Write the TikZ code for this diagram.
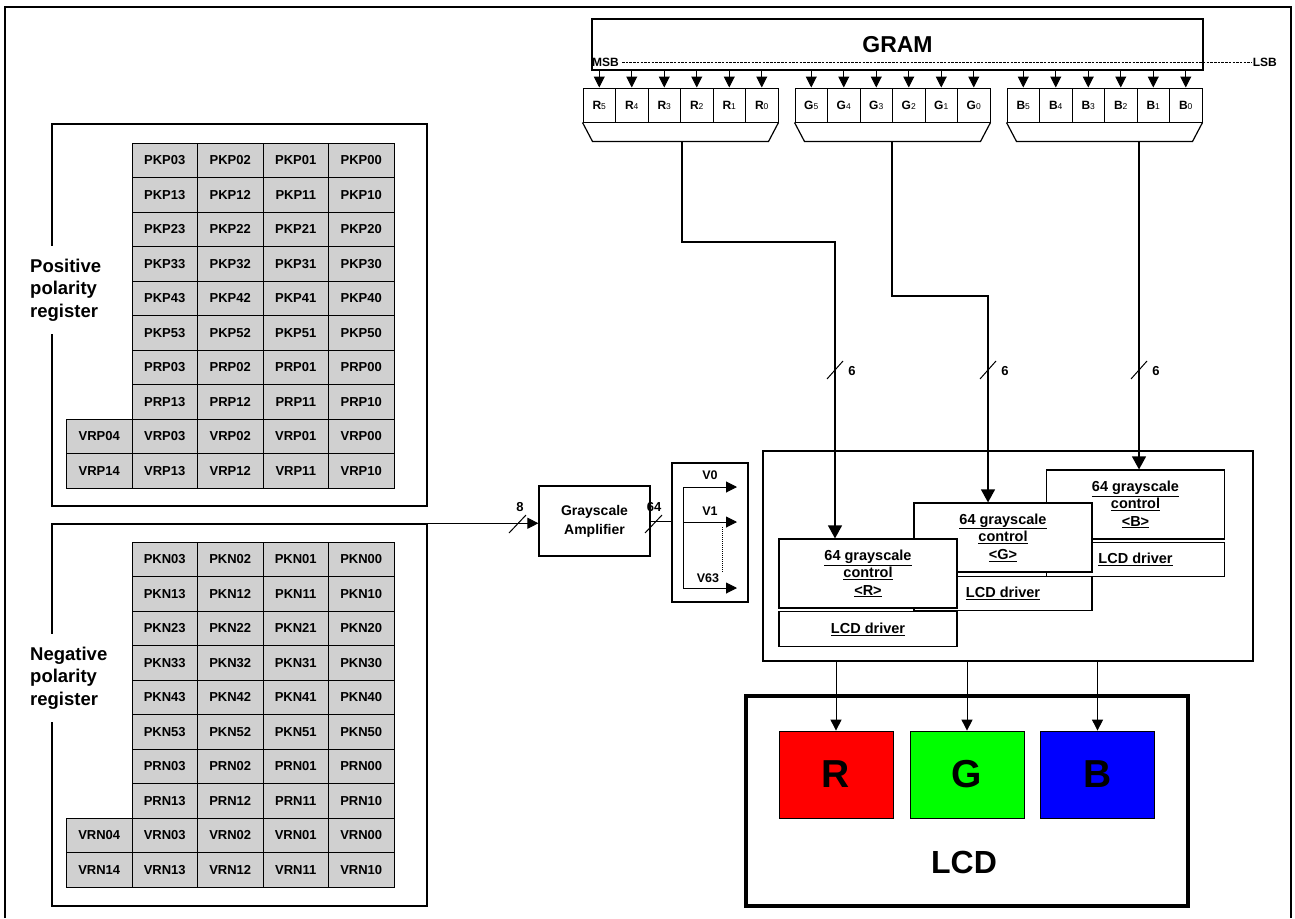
\documentclass[tikz,border=0pt]{standalone}
\usepackage{fontspec}
\setmainfont{Liberation Sans}
\usepackage{tikz}
\usetikzlibrary{arrows.meta, calc}
\definecolor{cellgray}{RGB}{208,208,208}
\definecolor{pixred}{RGB}{255,0,0}
\definecolor{pixgreen}{RGB}{0,255,0}
\definecolor{pixblue}{RGB}{0,0,255}
\newcommand{\boldsz}[2]{\fontsize{#1}{#2}\selectfont\bfseries}

\begin{document}
\begin{tikzpicture}[x=1pt, y=-1pt,
	cell/.style={draw, line width=1pt, fill=cellgray, minimum width=65.5pt, minimum height=34.5pt, inner sep=0pt, font=\boldsz{13}{15}},
	bit/.style={draw, line width=1pt, minimum width=32.5pt, minimum height=34pt, inner sep=0pt, font=\boldsz{12}{14}},
	regbox/.style={draw, line width=1.5pt, minimum width=375pt, minimum height=382pt, inner sep=0pt},
	reglabel/.style={anchor=west, fill=white, align=left, inner xsep=2pt, inner ysep=13pt, font=\boldsz{18.5}{22.5}},
	ctl/.style={draw, line width=1.2pt, fill=white, align=center, minimum width=178pt, minimum height=69pt, inner sep=0pt, font=\boldsz{14.5}{17.5}},
	drv/.style={draw, line width=1.2pt, fill=white, minimum width=178pt, minimum height=34.5pt, inner sep=0pt, font=\boldsz{14.5}{17.5}},
	pix/.style={draw, line width=0.8pt, minimum width=114pt, minimum height=87pt, inner sep=0pt, font=\boldsz{39}{39}},
	num/.style={inner sep=0pt, font=\boldsz{13}{13}},
	arr/.style={line width=1pt, -{Triangle[length=11pt,width=11pt]}},
	bigarr/.style={line width=1.2pt, -{Triangle[length=13pt,width=14pt]}}
	]
	\useasboundingbox (0,0) rectangle (1295,918);
	\draw[line width=2.5pt] (5,918) -- (5,7) -- (1291,7) -- (1291,918);

	% registers
	\node[regbox] (posreg) at (239.5,315) {};
	\node[regbox] (negreg) at (239.5,715) {};
	\node[reglabel] (poslabel) at (28,290) {Positive\\polarity\\register};
	\node[reglabel] (neglabel) at (28,678) {Negative\\polarity\\register};
	\foreach \pol/\gy in {P/143,N/542}{
		\foreach \r in {0,...,5}
			\foreach \c in {0,...,3}
				\node[cell] (pk\pol\r\c) at ({132+65.5*(3-\c)+32.75},{\gy+34.5*\r+17.25}) {PK\pol\r\c};
		\foreach \r in {0,1}
			\foreach \c in {0,...,3}
				\node[cell] (pr\pol\r\c) at ({132+65.5*(3-\c)+32.75},{\gy+34.5*(\r+6)+17.25}) {PR\pol\r\c};
		\foreach \r in {0,1}
			\foreach \c in {0,...,4}
				\node[cell] (vr\pol\r\c) at ({132+65.5*(3-\c)+32.75},{\gy+34.5*(\r+8)+17.25}) {VR\pol\r\c};
	}

	% amplifier
	\node[draw, line width=1.2pt, align=center, minimum width=111pt, minimum height=70pt, inner sep=0pt, font=\boldsz{14}{19}] (amp) at (594.5,521) {Grayscale\\Amplifier};
	\node[draw, line width=1.2pt, minimum width=76pt, minimum height=139pt, inner sep=0pt] (vbox) at (710,532.5) {};
	\draw[arr] (negreg.north east) -- (negreg.north east -| amp.west);
	\draw[line width=1pt] (amp.east) -- (amp.east -| vbox.west);
	\draw[line width=1pt] (509,533) -- (526,515);
	\draw[line width=1pt] (645,533) -- (662,515);
	\node[num] (eight) at (520,507) {8};
	\node[num] (sixtyfour) at (654,507) {64};
	\coordinate (vtop) at (683,487);
	\coordinate (vmid) at (683,522);
	\coordinate (vbot) at (683,588);
	\draw[line width=1pt] (vtop) -- (vbot);
	\draw[arr] (vtop) -- ++(54,0);
	\draw[arr] (vmid) -- ++(54,0);
	\draw[arr] (vbot) -- ++(54,0);
	\draw[line width=1pt, dash pattern=on 1pt off 1pt] (722,527) -- (722,573);
	\node[num, font=\boldsz{12.5}{13}] (vzero) at (710,475) {V0};
	\node[num, font=\boldsz{12.5}{13}] (vone) at (710,511) {V1};
	\node[num, font=\boldsz{12.5}{13}] (vlast) at (708,578) {V63};

	% GRAM
	\node[draw, line width=1.2pt, minimum width=611pt, minimum height=51pt, inner sep=0pt, font=\boldsz{23}{23}] (gram) at (897.5,44.5) {GRAM};
	\node[anchor=west, inner sep=0pt, font=\boldsz{12}{12}] (msb) at (592,62) {MSB};
	\node[anchor=east, inner sep=0pt, font=\boldsz{12}{12}] (lsb) at (1277,62) {LSB};
	\draw[line width=0.8pt, dash pattern=on 2.5pt off 1.2pt] ([xshift=3pt]msb.east) -- ([xshift=-1pt]lsb.west);
	\foreach \col/\x in {R/583,G/795,B/1007}{
		\foreach \i in {0,...,5}{
			\node[bit] (\col\i) at ({\x+32.5*(5-\i)+16.25},105) {\col{\fontsize{8.5}{8.5}\selectfont\mdseries\i}};
			\draw[arr] (\col\i.north |- gram.south) -- (\col\i.north);
		}
		\draw[line width=1.2pt] (\col5.south west) -- ++(10,19) -- ($(\col0.south east)+(-10,19)$) -- (\col0.south east);
	}
	\coordinate (rbus) at (682,141);
	\coordinate (gbus) at (892,141);
	\coordinate (bbus) at (1139,141);
	\coordinate (rbend) at (835,242);
	\coordinate (gbend) at (988,296);

	% drivers
	\node[draw, line width=1.2pt, minimum width=490pt, minimum height=210pt, inner sep=0pt] (cont) at (1008,556) {};
	\node[ctl] (bctl) at (1135.5,504.5) {\underline{64 grayscale}\\\underline{control}\\\underline{<B>}};
	\node[drv] (bdrv) at (1135.5,559.5) {\underline{LCD driver}};
	\node[ctl] (gctl) at (1003,537.5) {\underline{64 grayscale}\\\underline{control}\\\underline{<G>}};
	\node[drv] (gdrv) at (1003,593.5) {\underline{LCD driver}};
	\node[ctl] (rctl) at (868,573.5) {\underline{64 grayscale}\\\underline{control}\\\underline{<R>}};
	\node[drv] (rdrv) at (868,629) {\underline{LCD driver}};
	\draw[bigarr] (rbus) |- (rbend) -- (rbend |- rctl.north);
	\draw[bigarr] (gbus) |- (gbend) -- (gbend |- gctl.north);
	\draw[bigarr] (bbus) -- (bbus |- bctl.north);
	\foreach \x in {835,988,1139}{
		\draw[line width=1pt] (\x-8,379) -- (\x+8,361);
		\node[num] (six\x) at (\x+17,371) {6};
	}

	% LCD
	\node[draw, line width=4pt, minimum width=442pt, minimum height=210pt, inner sep=0pt] (lcd) at (967,801) {};
	\node[pix, fill=pixred] (rpix) at (836,774.5) {R};
	\node[pix, fill=pixgreen] (gpix) at (967,774.5) {G};
	\node[pix, fill=pixblue] (bpix) at (1097.5,774.5) {B};
	\node[font=\boldsz{32}{32}, inner sep=0pt] (lcdtext) at (964,862) {LCD};
	\foreach \p in {rpix,gpix,bpix}
		\draw[arr] (\p.north |- cont.south) -- (\p.north);
\end{tikzpicture}
\end{document}
